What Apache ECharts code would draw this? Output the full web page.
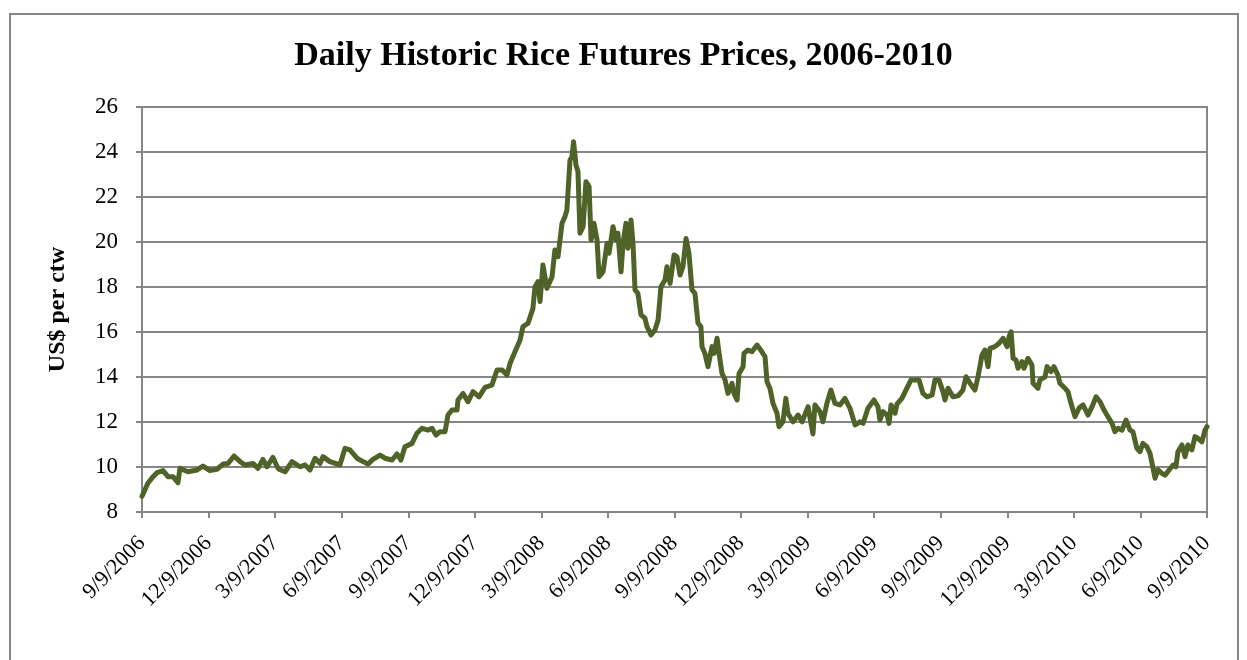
<!DOCTYPE html>
<html>
<head>
<meta charset="utf-8">
<script src="https://cdn.jsdelivr.net/npm/echarts@6/dist/echarts.min.js"></script>
<style>
html, body { margin: 0; padding: 0; background: #fff; }
#chart { width: 1247px; height: 660px; }
</style>
</head>
<body>
<div id="chart"></div>
<script>
var tickLabels = ['9/9/2006', '12/9/2006', '3/9/2007', '6/9/2007', '9/9/2007', '12/9/2007',
	'3/9/2008', '6/9/2008', '9/9/2008', '12/9/2008', '3/9/2009', '6/9/2009', '9/9/2009',
	'12/9/2009', '3/9/2010', '6/9/2010', '9/9/2010'];

// months elapsed since 9/9/2006
var months = [0, 0.27, 0.5, 0.68, 0.95, 1.17, 1.4, 1.62, 1.71, 2.07, 2.48, 2.75, 3.06, 3.38, 3.65, 3.88,
	4.15, 4.42, 4.64, 5.0, 5.23, 5.45, 5.63, 5.9, 6.08, 6.17, 6.45, 6.76, 7.12, 7.35, 7.57, 7.8,
	8.02, 8.16, 8.47, 8.92, 9.15, 9.37, 9.69, 9.96, 10.19, 10.41, 10.73, 10.95, 11.27, 11.49, 11.67, 11.85,
	12.17, 12.39, 12.62, 12.89, 13.07, 13.25, 13.43, 13.66, 13.79, 13.97, 14.2, 14.24, 14.47, 14.69, 14.92, 15.19,
	15.46, 15.77, 16.0, 16.23, 16.45, 16.59, 16.81, 17.04, 17.17, 17.4, 17.62, 17.71, 17.85, 17.94, 18.07, 18.25,
	18.48, 18.61, 18.75, 18.93, 19.06, 19.15, 19.29, 19.38, 19.45, 19.56, 19.65, 19.74, 19.88, 20.01, 20.15, 20.24,
	20.37, 20.51, 20.6, 20.78, 20.96, 21.05, 21.23, 21.36, 21.45, 21.59, 21.68, 21.81, 21.9, 22.04, 22.13, 22.22,
	22.35, 22.49, 22.67, 22.76, 22.94, 23.12, 23.26, 23.39, 23.57, 23.66, 23.8, 23.98, 24.11, 24.25, 24.38, 24.52,
	24.65, 24.79, 24.92, 25.06, 25.19, 25.24, 25.37, 25.51, 25.69, 25.78, 25.92, 26.01, 26.14, 26.28, 26.41, 26.59,
	26.68, 26.82, 26.91, 27.09, 27.13, 27.31, 27.49, 27.72, 27.94, 28.08, 28.17, 28.3, 28.44, 28.62, 28.71, 28.89,
	29.02, 29.11, 29.34, 29.57, 29.75, 30.02, 30.24, 30.33, 30.56, 30.69, 30.87, 31.05, 31.23, 31.46, 31.68, 31.91,
	32.14, 32.36, 32.5, 32.72, 32.99, 33.17, 33.26, 33.4, 33.58, 33.67, 33.76, 33.94, 34.03, 34.25, 34.43, 34.66,
	34.84, 35.02, 35.2, 35.38, 35.61, 35.74, 35.92, 36.1, 36.19, 36.33, 36.55, 36.78, 37.0, 37.14, 37.32, 37.54,
	37.68, 37.86, 37.99, 38.13, 38.22, 38.44, 38.63, 38.81, 38.99, 39.08, 39.17, 39.26, 39.39, 39.48, 39.66, 39.75,
	39.93, 40.11, 40.16, 40.38, 40.47, 40.7, 40.79, 40.97, 41.1, 41.28, 41.37, 41.6, 41.73, 41.87, 42.05, 42.23,
	42.41, 42.64, 42.82, 43.0, 43.18, 43.36, 43.49, 43.72, 43.85, 43.99, 44.17, 44.35, 44.53, 44.66, 44.84, 44.98,
	45.11, 45.29, 45.43, 45.57, 45.66, 45.79, 45.97, 46.11, 46.29, 46.47, 46.6, 46.69, 46.87, 47.01, 47.14, 47.32,
	47.46, 47.59, 47.77, 47.91, 48.0];

// US$ per cwt
var prices = [8.7, 9.29, 9.57, 9.75, 9.84, 9.57, 9.57, 9.3, 9.94, 9.79, 9.87, 10.04, 9.84, 9.9, 10.13, 10.16,
	10.49, 10.24, 10.09, 10.16, 9.94, 10.34, 10.01, 10.43, 10.04, 9.9, 9.79, 10.24, 10.01, 10.09, 9.87, 10.39,
	10.16, 10.46, 10.24, 10.09, 10.83, 10.76, 10.39, 10.24, 10.13, 10.34, 10.53, 10.39, 10.31, 10.58, 10.31, 10.9,
	11.05, 11.5, 11.72, 11.64, 11.72, 11.42, 11.57, 11.57, 12.31, 12.53, 12.53, 12.98, 13.27, 12.9, 13.35, 13.12,
	13.54, 13.64, 14.31, 14.31, 14.09, 14.61, 15.12, 15.64, 16.24, 16.39, 17.05, 18.0, 18.24, 17.35, 18.98, 17.94,
	18.46, 19.64, 19.35, 20.83, 21.12, 21.42, 23.64, 23.8, 24.46, 23.42, 23.12, 20.39, 20.68, 22.68, 22.46, 20.09,
	20.83, 20.09, 18.46, 18.68, 19.94, 19.5, 20.68, 20.09, 20.39, 18.68, 19.94, 20.83, 19.72, 20.98, 19.94, 17.87,
	17.72, 16.76, 16.61, 16.24, 15.87, 16.09, 16.53, 18.01, 18.31, 18.9, 18.16, 19.42, 19.35, 18.53, 18.9, 20.16,
	19.5, 17.87, 17.72, 16.39, 16.24, 15.35, 15.05, 14.46, 15.35, 15.05, 15.72, 15.05, 14.16, 13.87, 13.27, 13.72,
	13.27, 12.98, 14.16, 14.46, 15.05, 15.2, 15.12, 15.42, 15.12, 14.9, 13.79, 13.5, 12.83, 12.39, 11.79, 12.01,
	13.05, 12.39, 12.01, 12.31, 12.01, 12.68, 11.47, 12.76, 12.46, 12.01, 12.83, 13.42, 12.83, 12.76, 13.05, 12.61,
	11.87, 12.01, 11.94, 12.61, 12.98, 12.68, 12.09, 12.46, 12.31, 11.94, 12.76, 12.39, 12.8, 13.05, 13.42, 13.87,
	13.87, 13.87, 13.27, 13.12, 13.2, 13.87, 13.87, 13.35, 12.98, 13.5, 13.12, 13.16, 13.42, 14.01, 13.72, 13.42,
	14.01, 14.98, 15.2, 14.46, 15.27, 15.35, 15.5, 15.72, 15.35, 15.79, 16.01, 14.83, 14.76, 14.39, 14.68, 14.39,
	14.83, 14.53, 13.72, 13.5, 13.87, 14.01, 14.46, 14.24, 14.46, 14.09, 13.72, 13.5, 13.35, 12.83, 12.24, 12.61,
	12.76, 12.31, 12.68, 13.12, 12.9, 12.53, 12.31, 11.94, 11.57, 11.72, 11.64, 12.09, 11.64, 11.57, 10.83, 10.68,
	11.05, 10.9, 10.61, 9.94, 9.5, 9.87, 9.72, 9.64, 9.87, 10.09, 10.01, 10.68, 10.98, 10.46, 10.98, 10.76,
	11.35, 11.27, 11.12, 11.64, 11.79];

var dom = document.getElementById('chart');
var myChart = echarts.init(dom);

var serif = '"Liberation Serif", "DejaVu Serif", serif';
var gray = '#868686';

myChart.setOption({
	animation: false,
	backgroundColor: '#fff',
	title: {
		text: 'Daily Historic Rice Futures Prices, 2006-2010',
		left: 'center',
		top: 34,
		textStyle: {
			fontFamily: serif,
			fontSize: 34,
			fontWeight: 'bold',
			color: '#000'
		}
	},
	graphic: [{
		type: 'rect',
		shape: { x: 10, y: 14, width: 1228, height: 700 },
		style: { fill: 'none', stroke: gray, lineWidth: 2 },
		silent: true,
		z: -1
	}],
	grid: {
		left: 142,
		top: 107,
		right: 40,
		bottom: 148,
		show: true,
		borderColor: gray,
		borderWidth: 2
	},
	xAxis: {
		type: 'value',
		min: 0,
		max: 48,
		interval: 3,
		axisLine: { lineStyle: { color: gray, width: 2 } },
		axisTick: { show: true, length: 6, lineStyle: { color: gray, width: 2 } },
		splitLine: { show: false },
		axisLabel: {
			rotate: 45,
			margin: 28,
			fontFamily: serif,
			fontSize: 22,
			color: '#000',
			formatter: function(v) {
				return tickLabels[Math.round(v / 3)];
			}
		}
	},
	yAxis: {
		type: 'value',
		min: 8,
		max: 26,
		interval: 2,
		name: 'US$ per ctw',
		nameLocation: 'middle',
		nameGap: 72,
		nameTextStyle: {
			fontFamily: serif,
			fontSize: 24,
			fontWeight: 'bold',
			color: '#000'
		},
		axisLine: { show: true, lineStyle: { color: gray, width: 2 } },
		axisTick: { show: true, length: 6, lineStyle: { color: gray, width: 2 } },
		splitLine: { lineStyle: { color: gray, width: 2 } },
		axisLabel: {
			margin: 24,
			fontFamily: serif,
			fontSize: 23,
			color: '#000'
		}
	},
	series: [{
		type: 'line',
		data: months.map(function(m, i) { return [m, prices[i]]; }),
		showSymbol: false,
		lineStyle: { color: '#4F6228', width: 5, join: 'round', cap: 'round' },
		itemStyle: { color: '#4F6228' }
	}]
});
</script>
</body>
</html>
